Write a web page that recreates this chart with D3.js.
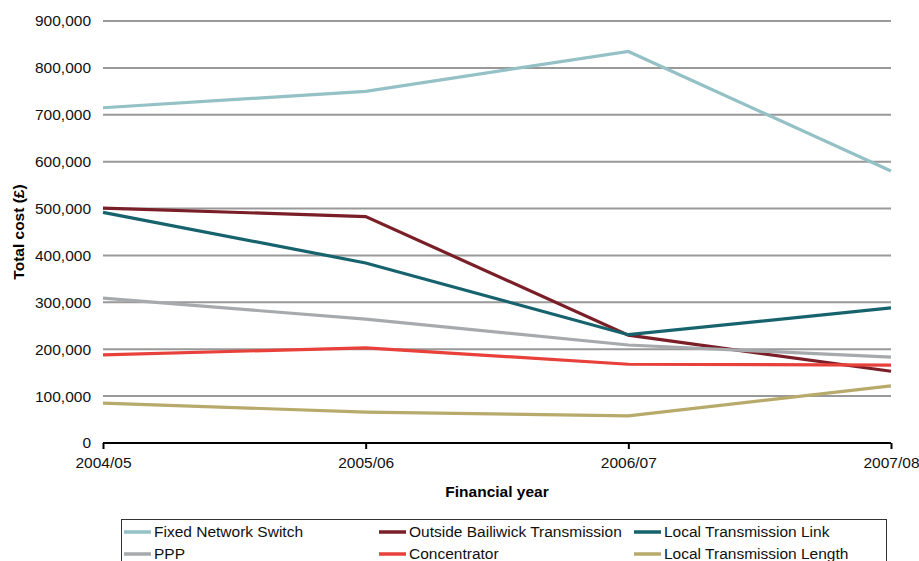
<!DOCTYPE html>
<html>
<head>
<meta charset="utf-8">
<script src="https://cdn.jsdelivr.net/npm/d3@7"></script>
<style>
  body { margin: 0; background: #fff; }
  svg { display: block; font-family: "Liberation Sans", Arial, sans-serif; }
</style>
</head>
<body>
<div id="chart"></div>
<script>
// Total cost by financial year, per cost element
const years = ["2004/05", "2005/06", "2006/07", "2007/08"];
const fixedNetworkSwitch = [715000, 750000, 835000, 580000];
const outsideBailiwick = [501000, 483000, 230000, 153000];
const localTransLink = [492000, 384000, 231000, 288000];
const ppp = [309000, 264000, 209000, 183000];
const concentrator = [188000, 203000, 168000, 166000];
const localTransLength = [85000, 66000, 58000, 122000];
const yTicks = [0, 100000, 200000, 300000, 400000, 500000, 600000, 700000, 800000, 900000];

const series = [
    {name: "Fixed Network Switch", values: fixedNetworkSwitch, color: "#94c1c5"},
    {name: "Outside Bailiwick Transmission", values: outsideBailiwick, color: "#7a1f27"},
    {name: "Local Transmission Link", values: localTransLink, color: "#16636d"},
    {name: "PPP", values: ppp, color: "#a6aaad"},
    {name: "Concentrator", values: concentrator, color: "#e8403a"},
    {name: "Local Transmission Length", values: localTransLength, color: "#b7aa6b"}
];

const width = 919, height = 561;
const margin = {left: 103, right: 28, top: 21, bottom: 118};
const font = "Liberation Sans, Arial, sans-serif";

const svg = d3.select("#chart").append("svg")
    .attr("width", width)
    .attr("height", height);

const x = d3.scalePoint()
    .domain(years)
    .range([margin.left, width - margin.right]);

const y = d3.scaleLinear()
    .domain([0, 900000])
    .range([height - margin.bottom, margin.top]);

// gridlines
svg.append("g")
    .selectAll("line")
    .data(yTicks.filter(d => d > 0))
    .join("line")
    .attr("x1", margin.left)
    .attr("x2", width - margin.right)
    .attr("y1", d => y(d))
    .attr("y2", d => y(d))
    .attr("stroke", "#999")
    .attr("stroke-width", 2);

// y labels
svg.append("g")
    .selectAll("text")
    .data(yTicks)
    .join("text")
    .attr("x", margin.left - 12)
    .attr("y", d => y(d))
    .attr("dy", "0.35em")
    .attr("text-anchor", "end")
    .attr("font-size", 15.5)
    .attr("fill", "#111")
    .text(d => d3.format(",")(d));

// x axis
const xAxis = svg.append("g")
    .attr("transform", "translate(0," + y(0) + ")")
    .call(d3.axisBottom(x).tickSize(6).tickPadding(8));
xAxis.select(".domain").attr("stroke", "#000").attr("stroke-width", 2)
    .attr("d", "M" + margin.left + ",0H" + (width - margin.right));
xAxis.selectAll(".tick line").attr("stroke", "#000").attr("stroke-width", 2);
xAxis.selectAll(".tick text")
    .attr("font-size", 15.5)
    .attr("font-family", font)
    .attr("fill", "#111");

// lines
const line = d3.line()
    .x((d, i) => x(years[i]))
    .y(d => y(d));

svg.append("g")
    .selectAll("path")
    .data(series)
    .join("path")
    .attr("d", s => line(s.values))
    .attr("fill", "none")
    .attr("stroke", s => s.color)
    .attr("stroke-width", 3.2)
    .attr("stroke-linejoin", "miter");

// axis titles
svg.append("text")
    .attr("x", (margin.left + width - margin.right) / 2)
    .attr("y", 497)
    .attr("text-anchor", "middle")
    .attr("font-size", 15.5)
    .attr("font-weight", "bold")
    .text("Financial year");

svg.append("text")
    .attr("transform", "translate(24," + y(450000) + ") rotate(-90)")
    .attr("text-anchor", "middle")
    .attr("font-size", 15.5)
    .attr("font-weight", "bold")
    .text("Total cost (£)");

// legend
const legend = svg.append("g");
legend.append("rect")
    .attr("x", 121.5)
    .attr("y", 519.5)
    .attr("width", 765)
    .attr("height", 60)
    .attr("fill", "none")
    .attr("stroke", "#333")
    .attr("stroke-width", 1);

const colX = [124, 379, 634];
const rowY = [532, 554];
const items = legend.selectAll("g")
    .data(series)
    .join("g")
    .attr("transform", (d, i) => "translate(" + colX[i % 3] + "," + rowY[Math.floor(i / 3)] + ")");
items.append("line")
    .attr("x1", 0).attr("x2", 27)
    .attr("stroke", d => d.color)
    .attr("stroke-width", 3.5);
items.append("text")
    .attr("x", 30)
    .attr("dy", "0.35em")
    .attr("font-size", 15.5)
    .attr("fill", "#111")
    .text(d => d.name);
</script>
</body>
</html>
